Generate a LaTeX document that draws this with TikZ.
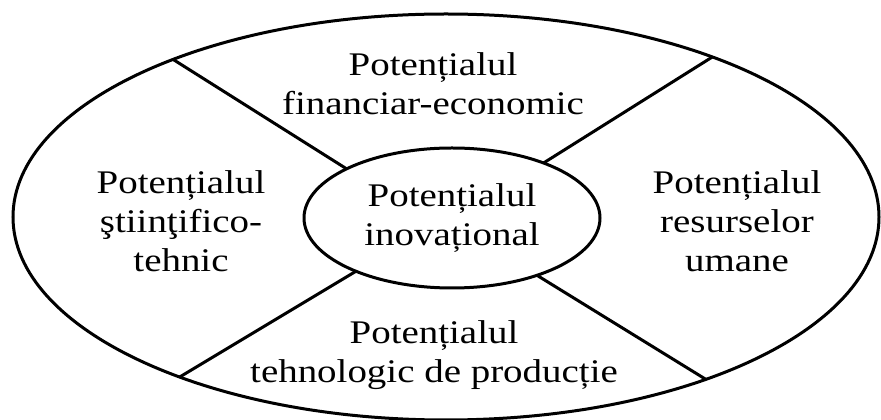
\documentclass[tikz,border=0pt]{standalone}
\usepackage{fontspec}
\setmainfont[FakeStretch=1.18]{Liberation Serif}
\usetikzlibrary{shapes.geometric}

\begin{document}
\begin{tikzpicture}[x=1pt,y=1pt,
  ring/.style={draw=black,ellipse,line width=3pt,inner sep=0pt,outer sep=0pt},
  part/.style={align=center,font=\fontsize{33}{39}\selectfont},
  divider/.style={draw=black,line width=3pt}]
  \useasboundingbox (0,0) rectangle (881,420);
  \node[ring,minimum width=866pt,minimum height=406pt] (outer) at (446,203) {};
  \node[ring,part,minimum width=296pt,minimum height=140pt] (inner) at (452,202) {Potențialul\\inovațional};
  \node[part] (finance) at (433,336) {Potențialul\\financiar-economic};
  \node[part] (tech) at (434,65) {Potențialul\\tehnologic de producție};
  \node[part] (science) at (181,199) {Potențialul\\ştiinţifico-\\tehnic};
  \node[part] (human) at (737,199) {Potențialul\\resurselor\\umane};
  \draw[divider] (inner.155) -- (outer.150);
  \draw[divider] (inner.31) -- (outer.31);
  \draw[divider] (inner.209) -- (outer.211);
  \draw[divider] (inner.-34) -- (outer.-32);
\end{tikzpicture}
\end{document}
